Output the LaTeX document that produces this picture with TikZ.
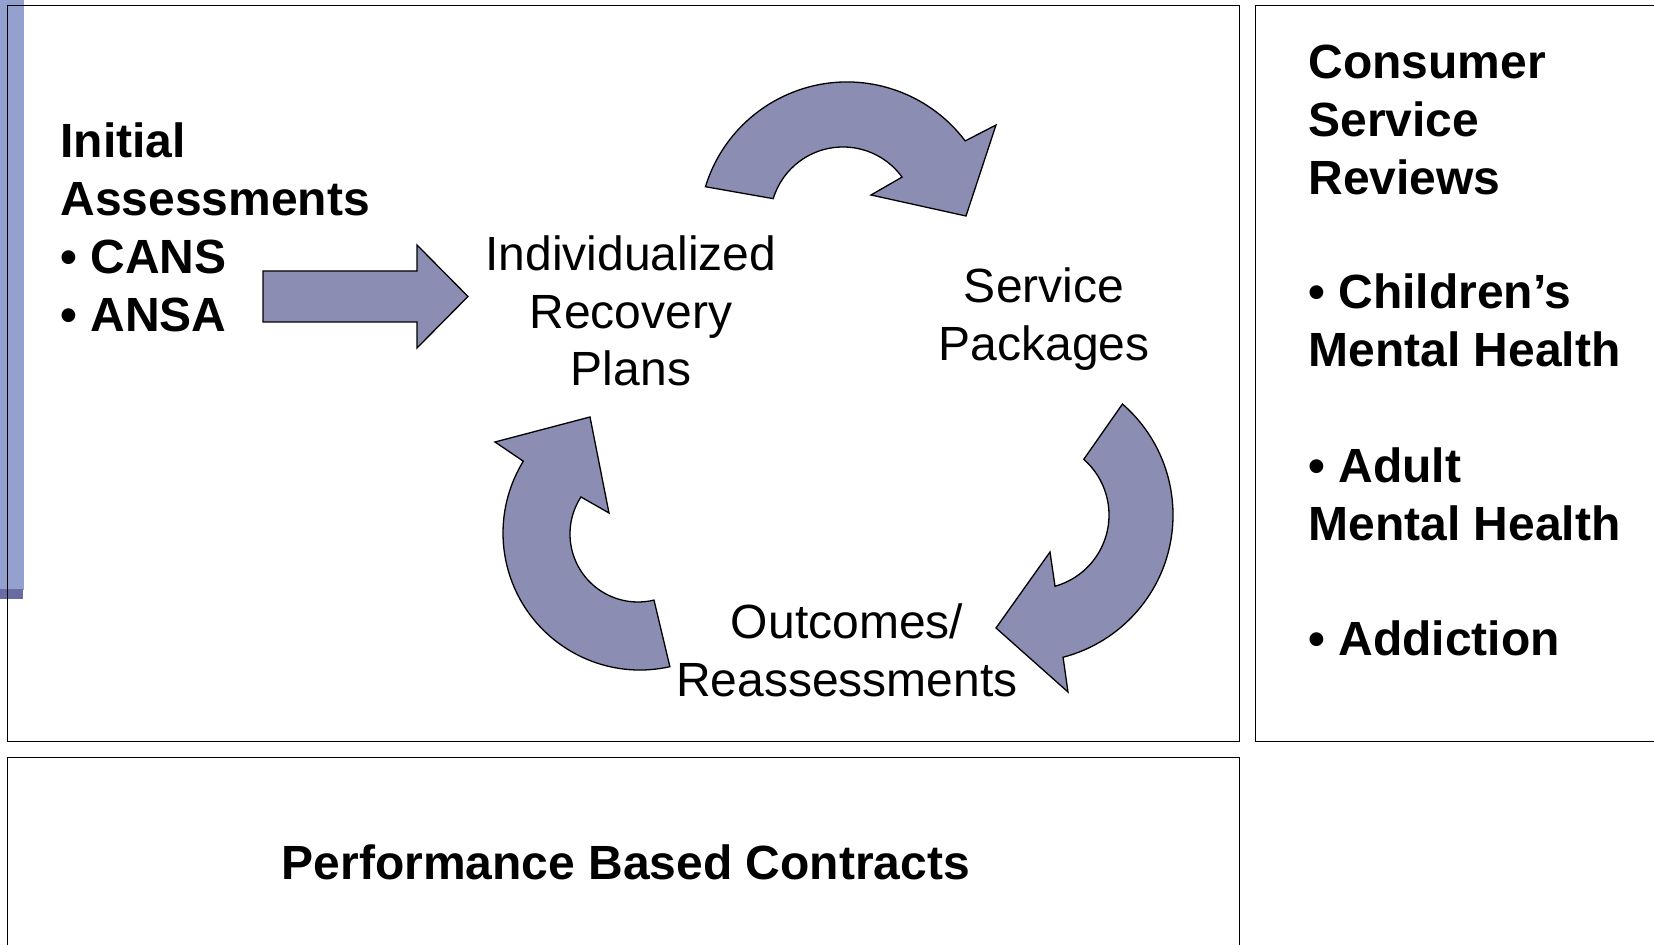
\documentclass[tikz,border=0pt]{standalone}
\usepackage{fontspec}
\setmainfont{Liberation Sans}
\usetikzlibrary{calc}
\definecolor{arrowfill}{RGB}{139,141,178}
\definecolor{barblue}{RGB}{148,161,206}
\definecolor{bardark}{RGB}{104,108,160}
\tikzset{
  boxline/.style={draw=black, line width=0.7pt},
  bluearrow/.style={fill=arrowfill, draw=black, line width=0.65pt, line join=miter},
  boldtxt/.style={font=\fontsize{24}{29}\selectfont\bfseries, inner sep=0pt, anchor=base west},
  cyctxt/.style={font=\fontsize{24}{29}\selectfont, inner sep=0pt, anchor=base},
}
\begin{document}
\begin{tikzpicture}[x=0.5pt,y=-0.5pt]
\useasboundingbox (0,0) rectangle (1654,945);
\clip (0,0) rectangle (1654,945);
% left blue bar
\fill[barblue] (0,0) rectangle (24,590);
\fill[bardark] (0,589) rectangle (23,599);
% boxes
\draw[boxline] (7.4,5.3) rectangle (1239.3,741.7);
\draw[boxline] (1255.3,5.3) rectangle (1680,741.7);
\draw[boxline] (7.4,757.3) rectangle (1239.3,980);
% left text
\node[boldtxt] (ia1) at (60,158) {Initial};
\node[boldtxt] (ia2) at (60,216) {Assessments};
\node[boldtxt] (ia3) at (60,274) {• CANS};
\node[boldtxt] (ia4) at (60,332) {• ANSA};
% straight arrow
\draw[bluearrow] (263,271) -- (417,271) -- (417,245) -- (468,296.5) -- (417,348) -- (417,322) -- (263,322) -- cycle;
% cycle labels
\node[cyctxt] (irp1) at (631,271) {Individualized};
\node[cyctxt] (irp2) at (631,329) {Recovery};
\node[cyctxt] (irp3) at (631,386) {Plans};
\node[cyctxt] (sp1) at (1044,303) {Service};
\node[cyctxt] (sp2) at (1044,361) {Packages};
\node[cyctxt] (or1) at (847,639) {Outcomes/};
\node[cyctxt] (or2) at (847,697) {Reassessments};
% curved arrows
\coordinate (o1) at (847,230);
\coordinate (i1) at (843,220);
\draw[bluearrow] ($(o1)+(197:148)$) arc[start angle=197, end angle=323, radius=148]
  -- (996,125) -- (966,216) -- (871,195) -- ($(i1)+(324:73)$)
  arc[start angle=324, end angle=197, radius=73] -- cycle;
\coordinate (o2) at (1026,515);
\coordinate (i2) at (1035,515);
\draw[bluearrow] ($(o2)+(-49:147)$) arc[start angle=-49, end angle=75.4, radius=147]
  -- (1068,692) -- (996,628) -- (1050,552) -- ($(i2)+(74.3:74)$)
  arc[start angle=74.3, end angle=-48.8, radius=74] -- cycle;
\coordinate (o3) at (640,533);
\coordinate (i3) at (638,534);
\draw[bluearrow] ($(o3)+(77.4:137)$) arc[start angle=77.4, end angle=211.6, radius=137]
  -- (495,442) -- (590,417) -- (609,513) -- ($(i3)+(213:68)$)
  arc[start angle=213, end angle=76.4, radius=68] -- cycle;
% right panel text
\node[boldtxt] (cs1) at (1308,79) {Consumer};
\node[boldtxt] (cs2) at (1308,137) {Service};
\node[boldtxt] (cs3) at (1308,195) {Reviews};
\node[boldtxt] (cs4) at (1308,309) {• Children’s};
\node[boldtxt] (cs5) at (1308,367) {Mental Health};
\node[boldtxt] (cs6) at (1308,483) {• Adult};
\node[boldtxt] (cs7) at (1308,541) {Mental Health};
\node[boldtxt] (cs8) at (1308,656) {• Addiction};
% bottom
\node[font=\fontsize{24}{29}\selectfont\bfseries, inner sep=0pt, anchor=base] (pbc) at (626,879) {Performance Based Contracts};
\end{tikzpicture}
\end{document}
